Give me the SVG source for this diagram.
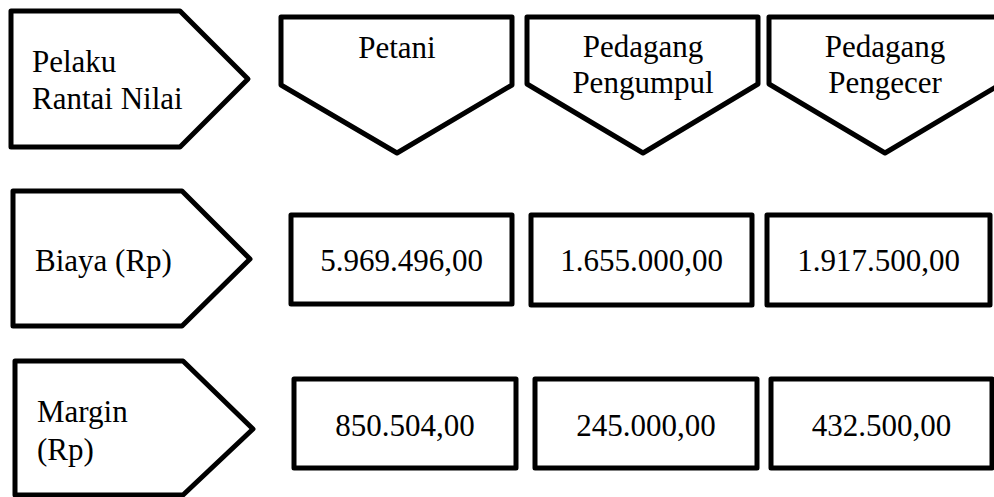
<svg xmlns="http://www.w3.org/2000/svg" width="994" height="497" viewBox="0 0 994 497">
<style>
.s{fill:#fff;stroke:#000;stroke-width:5;stroke-linejoin:round}
.t{font-family:'Liberation Serif','DejaVu Serif',serif;font-size:31px;fill:#000}
.c{text-anchor:middle}
</style>
<rect width="994" height="497" fill="#fff"/>
<g id="connectors"></g>
<g id="pelaku">
<polygon class="s" points="11,11 180,11 248,79 180,147 11,147"/>
<text class="t" x="32" y="72">Pelaku</text>
<text class="t" x="32" y="109">Rantai Nilai</text>
</g>
<g id="petani">
<polygon class="s" points="281,17 512,17 512,85 397,153 281,85"/>
<text class="t c" x="397" y="58">Petani</text>
</g>
<g id="pengumpul">
<polygon class="s" points="527,17 758,17 758,84 643,153 527,84"/>
<text class="t c" x="643" y="57">Pedagang</text>
<text class="t c" x="643" y="93">Pengumpul</text>
</g>
<g id="pengecer">
<polygon class="s" points="769,17 1001,17 1001,84 885,153 769,84"/>
<text class="t c" x="885" y="57">Pedagang</text>
<text class="t c" x="885" y="93">Pengecer</text>
</g>
<g id="biaya">
<polygon class="s" points="13,191 182,191 250,259 182,326 13,326"/>
<text class="t" x="35" y="271">Biaya (Rp)</text>
</g>
<g id="biaya-petani">
<rect class="s" x="291" y="215" width="221" height="89"/>
<text class="t c" x="401.5" y="271">5.969.496,00</text>
</g>
<g id="biaya-pengumpul">
<rect class="s" x="531" y="215" width="221" height="90"/>
<text class="t c" x="641.5" y="271">1.655.000,00</text>
</g>
<g id="biaya-pengecer">
<rect class="s" x="767" y="215" width="223" height="90"/>
<text class="t c" x="878.5" y="271">1.917.500,00</text>
</g>
<g id="margin">
<polygon class="s" points="15,361 183,361 253,429 183,495 15,495"/>
<text class="t" x="37" y="422">Margin</text>
<text class="t" x="37" y="460">(Rp)</text>
</g>
<g id="margin-petani">
<rect class="s" x="294" y="379" width="222" height="89"/>
<text class="t c" x="405" y="436">850.504,00</text>
</g>
<g id="margin-pengumpul">
<rect class="s" x="535" y="379" width="222" height="89"/>
<text class="t c" x="646" y="436">245.000,00</text>
</g>
<g id="margin-pengecer">
<rect class="s" x="771" y="379" width="221" height="89"/>
<text class="t c" x="881.5" y="436">432.500,00</text>
</g>
</svg>
